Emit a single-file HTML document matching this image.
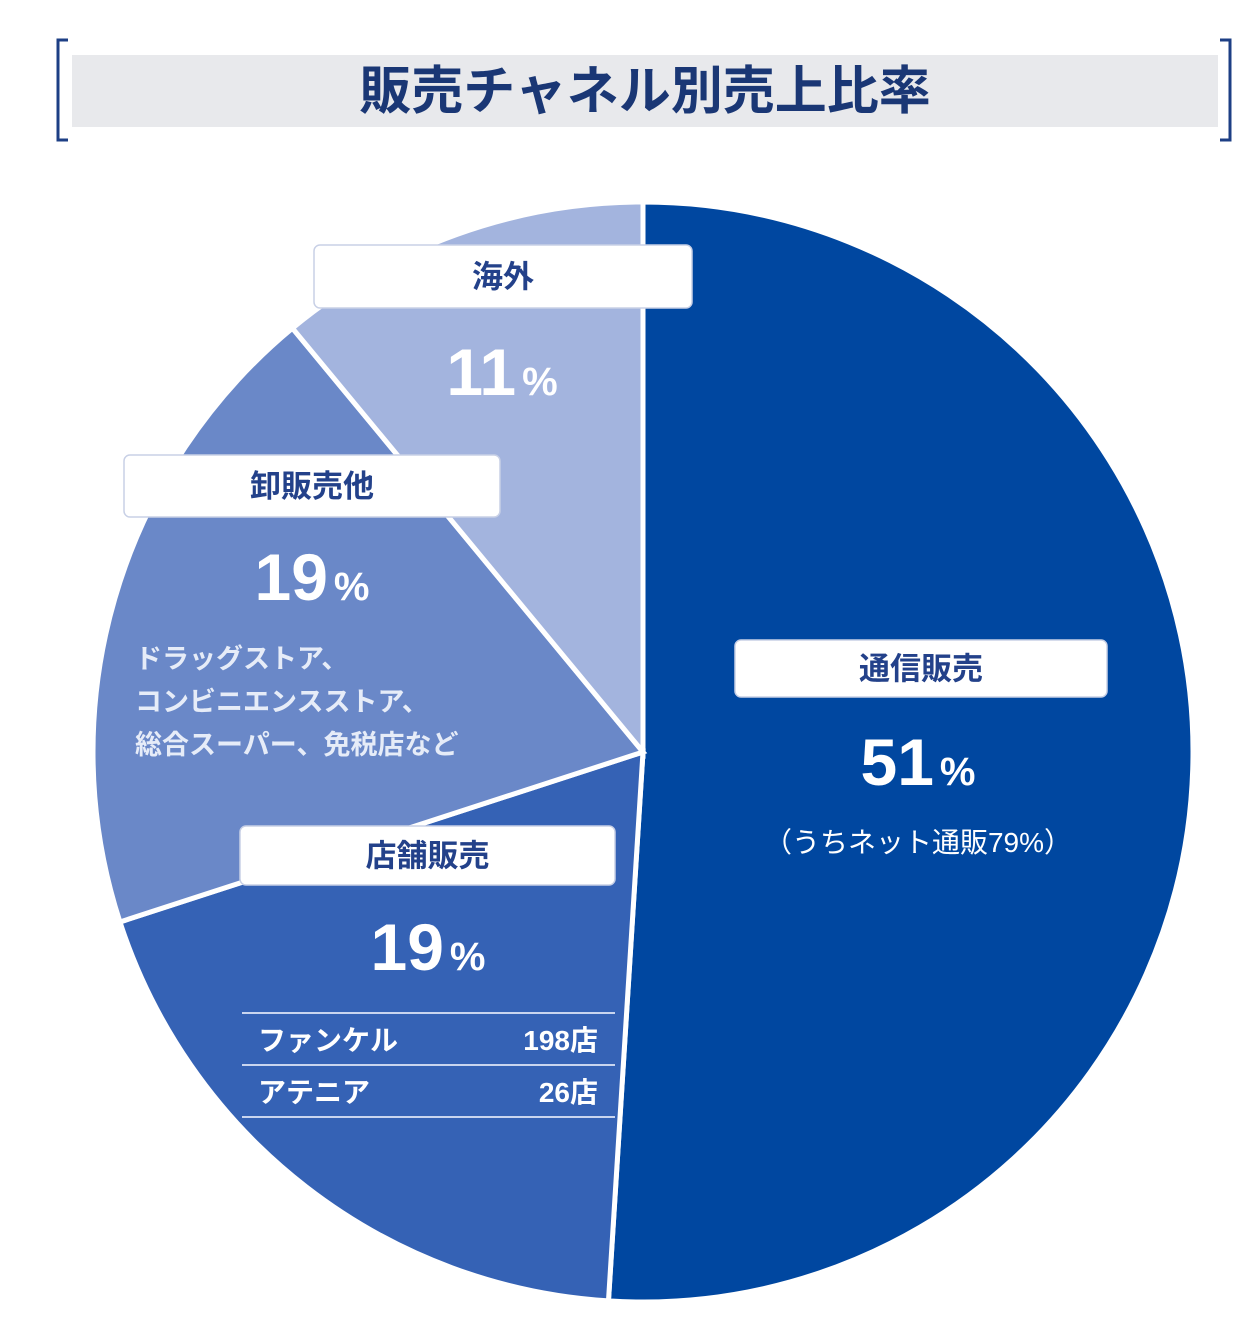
<!DOCTYPE html>
<html><head><meta charset="utf-8">
<style>
html,body{margin:0;padding:0;background:#fff;}
body{width:1258px;height:1334px;position:relative;overflow:hidden;font-family:"Liberation Sans","Noto Sans CJK JP",sans-serif;}
svg{position:absolute;left:0;top:0;}
</style></head>
<body>
<svg id="chart" width="1258" height="1334">
  <g>
    <rect x="72" y="55" width="1146" height="72" fill="#e8e9ec"/>
    <path d="M68,40 H58 V140 H68" fill="none" stroke="#1d3f85" stroke-width="3"/>
    <path d="M1220,40 H1230 V140 H1220" fill="none" stroke="#1d3f85" stroke-width="3"/>
    <text x="645" y="109" text-anchor="middle" font-size="52" font-weight="bold" fill="#1a3775" font-family="'Liberation Sans','Noto Sans CJK JP',sans-serif">販売チャネル別売上比率</text>
  </g>
  <g id="slices"></g>
  <g id="labels"></g>
</svg>
<script>
const categories = ["通信販売", "店舗販売", "卸販売他", "海外"];
const values = [51, 19, 19, 11];
const colors = ["#0047a0", "#3562b5", "#6a88c8", "#a3b4de"];
const subNotes = ["（うちネット通販79%）"];
const storeNames = ["ファンケル", "アテニア"];
const storeCounts = ["198店", "26店"];
const wholesaleNotes = ["ドラッグストア、", "コンビニエンスストア、", "総合スーパー、免税店など"];

const NS = "http://www.w3.org/2000/svg";
const cx = 643, cy = 752, r = 550;
const total = values.reduce((a,b)=>a+b,0);
function pt(frac, rad){ const a = frac*2*Math.PI; return [cx + rad*Math.sin(a), cy - rad*Math.cos(a)]; }
const sg = document.getElementById('slices');
let cum = 0;
values.forEach((v,i)=>{
  const s = cum/total, e = (cum+v)/total; cum += v;
  const [x1,y1] = pt(s,r), [x2,y2] = pt(e,r);
  const large = (e-s) > 0.5 ? 1 : 0;
  const p = document.createElementNS(NS,'path');
  p.setAttribute('d', `M${cx},${cy} L${x1},${y1} A${r},${r} 0 ${large} 1 ${x2},${y2} Z`);
  p.setAttribute('fill', colors[i]);
  p.setAttribute('stroke', '#fff');
  p.setAttribute('stroke-width', '5');
  
  
  sg.appendChild(p);
});

const lg = document.getElementById('labels');
function txt(x,y,s,size,fill,anchor,weight,name){
  const t = document.createElementNS(NS,'text');
  t.setAttribute('x',x); t.setAttribute('y',y);
  t.setAttribute('font-size',size); t.setAttribute('fill',fill);
  t.setAttribute('text-anchor',anchor||'middle');
  if(weight) t.setAttribute('font-weight',weight);
  t.textContent = s;
  
  
  lg.appendChild(t); return t;
}
function box(x,y,w,h,name){
  const b = document.createElementNS(NS,'rect');
  b.setAttribute('x',x); b.setAttribute('y',y); b.setAttribute('width',w); b.setAttribute('height',h);
  b.setAttribute('rx',6); b.setAttribute('fill','#fff');
  b.setAttribute('stroke','#c8d0e6'); b.setAttribute('stroke-width','1.5');
  
  
  lg.appendChild(b);
}
function pct(cxp,y,v,name){
  const t = txt(cxp,y,'',66,'#fff','middle','bold',name);
  const a = document.createElementNS(NS,'tspan'); a.textContent = v;
  const b = document.createElementNS(NS,'tspan'); b.textContent = '%'; b.setAttribute('font-size','40'); b.setAttribute('dx','6');
  t.appendChild(a); t.appendChild(b);
}
const boxes = [[735,640,372,57],[240,826,375,59],[124,455,376,62],[314,245,378,63]];
const pctPos = [[918,785],[428,970],[312,600],[502,395]];
categories.forEach((c,i)=>{
  const [bx,by,bw,bh] = boxes[i];
  box(bx,by,bw,bh,'label-box-'+i);
  txt(bx+bw/2, by+bh/2+11, c, 31, '#23418a', 'middle', 'bold', 'category-label-'+i);
  pct(pctPos[i][0], pctPos[i][1], values[i], 'percent-label-'+i);
});
txt(918, 852, subNotes[0], 28, '#fff', 'middle', null, 'net-sales-note');
wholesaleNotes.forEach((s,i)=> txt(135, 668+i*43, s, 27, '#e6ecf8', 'start', 'bold', 'wholesale-note-'+i));
[1013,1065,1117].forEach((y,i)=>{
  const l = document.createElementNS(NS,'line');
  l.setAttribute('x1',242); l.setAttribute('x2',615); l.setAttribute('y1',y); l.setAttribute('y2',y);
  l.setAttribute('stroke','#c9d5ef'); l.setAttribute('stroke-width','2');
  
  
  lg.appendChild(l);
});
storeNames.forEach((n,i)=>{
  txt(258, 1050+i*52, n, 28, '#fff', 'start', 'bold', 'store-name-'+i);
  txt(598, 1050+i*52, storeCounts[i], 28, '#fff', 'end', 'bold', 'store-count-'+i);
});
</script>
</body></html>
